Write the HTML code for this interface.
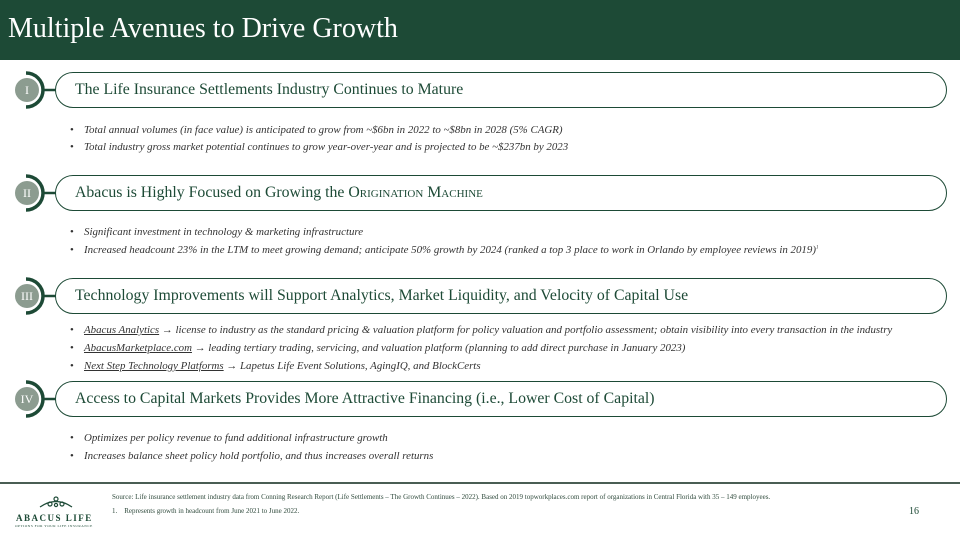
<!DOCTYPE html>
<html><head><style>
body{margin:0;width:960px;height:540px;background:#fff;position:relative;overflow:hidden;font-family:"Liberation Serif",serif;}
.hdr{position:absolute;left:0;top:0;width:960px;height:60px;background:#1d4a36;}
.hdr span{position:absolute;left:8px;top:13px;color:#fff;font-size:28px;}
.pill{position:absolute;left:55px;width:892px;height:36px;border:1.5px solid #1d4a36;border-radius:18px;box-sizing:border-box;}
.pt{position:absolute;left:19px;top:8px;font-size:15.8px;color:#1d4a36;white-space:nowrap;}
.sc{font-variant:small-caps;}
.num{position:absolute;left:15px;width:24px;height:24px;border-radius:50%;background:#8c9c90;color:#fff;font-size:12px;text-align:center;line-height:24px;}
.b{position:absolute;left:70px;font-size:10.9px;font-style:italic;color:#333;white-space:nowrap;}
.b:before{content:"•";position:absolute;left:0;font-style:normal;}
.b span.t{margin-left:14px;}
u{text-decoration:underline;}
.foot{position:absolute;left:0;top:482px;width:960px;height:2px;background:#4a5e54;}
.src{position:absolute;left:112px;font-size:7px;color:#2f4a3c;white-space:nowrap;}
</style></head><body>
<div class="hdr"><span>Multiple Avenues to Drive Growth</span></div>
<svg width="60" height="540" style="position:absolute;left:0;top:0">
<g fill="none" stroke="#1d4a36" stroke-width="3.5">
<path d="M26 73 A17 17 0 0 1 26 107"/><line x1="42" y1="90" x2="56" y2="90" stroke-width="2.5"/>
<path d="M26 176 A17 17 0 0 1 26 210"/><line x1="42" y1="193" x2="56" y2="193" stroke-width="2.5"/>
<path d="M26 279 A17 17 0 0 1 26 313"/><line x1="42" y1="296" x2="56" y2="296" stroke-width="2.5"/>
<path d="M26 382 A17 17 0 0 1 26 416"/><line x1="42" y1="399" x2="56" y2="399" stroke-width="2.5"/>
</g></svg>
<div class="num" style="top:78px">I</div>
<div class="num" style="top:181px">II</div>
<div class="num" style="top:284px">III</div>
<div class="num" style="top:387px">IV</div>
<div class="pill" style="top:72px"><div class="pt">The Life Insurance Settlements Industry Continues to Mature</div></div>
<div class="pill" style="top:175px"><div class="pt">Abacus is Highly Focused on Growing the <span class="sc">Origination Machine</span></div></div>
<div class="pill" style="top:278px"><div class="pt">Technology Improvements will Support Analytics, Market Liquidity, and Velocity of Capital Use</div></div>
<div class="pill" style="top:381px"><div class="pt">Access to Capital Markets Provides More Attractive Financing (i.e., Lower Cost of Capital)</div></div>
<div class="b" style="top:124px"><span class="t">Total annual volumes (in face value) is anticipated to grow from ~$6bn in 2022 to ~$8bn in 2028 (5% CAGR)</span></div>
<div class="b" style="top:141px"><span class="t">Total industry gross market potential continues to grow year-over-year and is projected to be ~$237bn by 2023</span></div>
<div class="b" style="top:226px"><span class="t">Significant investment in technology &amp; marketing infrastructure</span></div>
<div class="b" style="top:244px"><span class="t">Increased headcount 23% in the LTM to meet growing demand; anticipate 50% growth by 2024 (ranked a top 3 place to work in Orlando by employee reviews in 2019)<sup style="font-size:5px">1</sup></span></div>
<div class="b" style="top:324px"><span class="t"><u>Abacus Analytics</u> → license to industry as the standard pricing &amp; valuation platform for policy valuation and portfolio assessment; obtain visibility into every transaction in the industry</span></div>
<div class="b" style="top:342px"><span class="t"><u>AbacusMarketplace.com</u> → leading tertiary trading, servicing, and valuation platform (planning to add direct purchase in January 2023)</span></div>
<div class="b" style="top:360px"><span class="t"><u>Next Step Technology Platforms</u> → Lapetus Life Event Solutions, AgingIQ, and BlockCerts</span></div>
<div class="b" style="top:432px"><span class="t">Optimizes per policy revenue to fund additional infrastructure growth</span></div>
<div class="b" style="top:450px"><span class="t">Increases balance sheet policy hold portfolio, and thus increases overall returns</span></div>
<div class="foot"></div>
<svg width="40" height="16" style="position:absolute;left:36px;top:494px"><g fill="none" stroke="#1d4a36" stroke-width="1.2"><path d="M4 13 Q20 2 36 13"/><circle cx="14" cy="10" r="2"/><circle cx="20" cy="5" r="2"/><circle cx="26" cy="10" r="2"/><circle cx="20" cy="11" r="1.6"/></g></svg>
<div style="position:absolute;left:16px;top:513px;font-size:9px;letter-spacing:1.5px;font-weight:bold;color:#1d4a36">ABACUS LIFE</div>
<div style="position:absolute;left:15px;top:524px;font-size:3.5px;letter-spacing:0.5px;color:#1d4a36">OPTIONS FOR YOUR LIFE INSURANCE</div>
<div class="src" style="top:493px">Source: Life insurance settlement industry data from Conning Research Report (Life Settlements – The Growth Continues – 2022). Based on 2019 topworkplaces.com report of organizations in Central Florida with 35 – 149 employees.</div>
<div class="src" style="top:507px">1.&nbsp;&nbsp;&nbsp; Represents growth in headcount from June 2021 to June 2022.</div>
<div style="position:absolute;left:909px;top:506px;font-size:10px;color:#1d4a36">16</div>
</body></html>
